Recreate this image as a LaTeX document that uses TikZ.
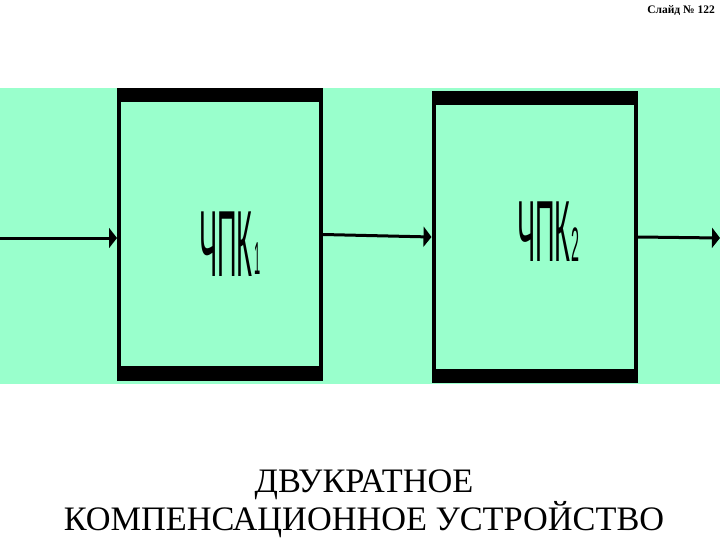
\documentclass[tikz,border=0pt]{standalone}
\usepackage{fontspec}
\setmainfont{Liberation Serif}
\newfontfamily\blockfont{Liberation Sans}
\usetikzlibrary{arrows.meta}
\definecolor{bandgreen}{HTML}{99FFCC}
\tikzset{
  x=1pt,y=-1pt,
  blockbox/.style={draw=black,line width=4pt,fill=bandgreen,minimum width=202pt,minimum height=288pt,inner sep=0pt},
  barfill/.style={fill=black,draw=none},
  conn/.style={line width=3pt,-{Triangle[length=8pt,width=20pt]}},
  blocktext/.style={font=\blockfont\fontsize{40}{40}\selectfont,inner sep=0pt,anchor=base west,xscale=0.68},
  subtext/.style={font=\blockfont\fontsize{22}{22}\selectfont,inner sep=0pt,anchor=base west},
  titletext/.style={font=\fontsize{34.3}{38}\selectfont,align=center,inner sep=0pt,anchor=base},
}
\begin{document}
\begin{tikzpicture}
\useasboundingbox (0,0) rectangle (720,540);
\fill[white] (0,0) rectangle (720,540);
\fill[bandgreen] (0,88) rectangle (720,384);
\node[blockbox] (b1) at (220,234.5) {};
\node[blockbox] (b2) at (534.5,237) {};
\fill[barfill] (117,89) rectangle (323,102);
\fill[barfill] (117,366) rectangle (323,380);
\fill[barfill] (432,91) rectangle (637,105);
\fill[barfill] (432,369) rectangle (637,383);
\coordinate (inp) at (0,238);
\coordinate (outp) at (720,238);
\draw[conn] (inp) -- (b1.west |- inp);
\draw[conn] (b1.east) -- (b2.west);
\draw[conn] (b2.east) -- (outp);
\node[blocktext,yscale=2.35] (t1) at (199,276) {ЧПК};
\node[subtext,xscale=0.5,yscale=2.1] (s1) at (254,274) {1};
\node[blocktext,yscale=2.17] (t2) at (517,261) {ЧПК};
\node[subtext,xscale=0.65,yscale=2.2] (s2) at (571.5,261) {2};
\node[titletext] (title) at (364,530) {ДВУКРАТНОЕ\\КОМПЕНСАЦИОННОЕ УСТРОЙСТВО};
\node[font=\bfseries\fontsize{11.5}{12}\selectfont,inner sep=0pt,anchor=base east] (slide) at (715,14) {Слайд № 122};
\end{tikzpicture}
\end{document}
